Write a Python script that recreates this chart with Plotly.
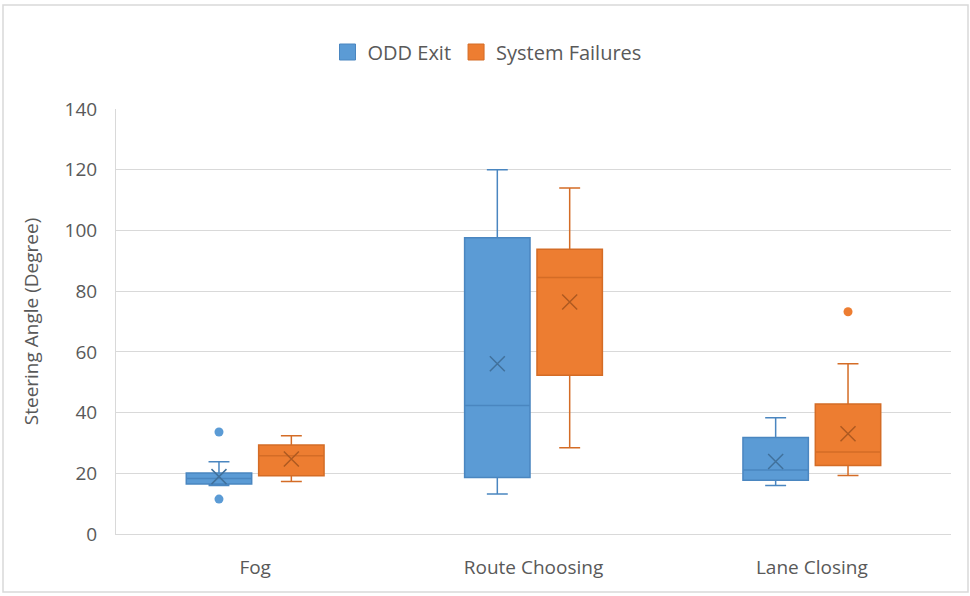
import plotly.graph_objects as go

categories = ["Fog", "Route Choosing", "Lane Closing"]
series_names = ["ODD Exit", "System Failures"]

odd_lower = [16.0, 13.2, 16.0]
odd_q1 = [16.5, 18.6, 17.7]
odd_median = [18.3, 42.3, 21.1]
odd_q3 = [20.1, 97.6, 31.8]
odd_upper = [23.8, 120.0, 38.3]
odd_mean = [18.9, 56.1, 23.9]
odd_outlier_cat = [0, 0]
odd_outlier_val = [33.6, 11.5]

sf_lower = [17.3, 28.4, 19.3]
sf_q1 = [19.2, 52.3, 22.6]
sf_median = [25.8, 84.5, 27.0]
sf_q3 = [29.3, 93.8, 42.8]
sf_upper = [32.4, 114.0, 56.1]
sf_mean = [24.7, 76.4, 33.0]
sf_outlier_cat = [2]
sf_outlier_val = [73.2]

y_ticks = [0, 20, 40, 60, 80, 100, 120, 140]

fill_colors = ["#5B9BD5", "#ED7D31"]
line_colors = ["#4A86C0", "#D46C26"]
mean_colors = ["#41719C", "#AE5A21"]
offsets = [-0.13, 0.13]
box_w = 0.235

series = [
    (odd_lower, odd_q1, odd_median, odd_q3, odd_upper, odd_mean, odd_outlier_cat, odd_outlier_val),
    (sf_lower, sf_q1, sf_median, sf_q3, sf_upper, sf_mean, sf_outlier_cat, sf_outlier_val),
]

fig = go.Figure()
for k, (lo, q1, med, q3, up, mn, oc, ov) in enumerate(series):
    xs = [i + offsets[k] for i in range(len(categories))]
    fig.add_trace(go.Box(
        x=xs, lowerfence=lo, q1=q1, median=med, q3=q3, upperfence=up,
        width=box_w, whiskerwidth=0.32,
        fillcolor=fill_colors[k], line=dict(color=line_colors[k], width=1.5),
        showlegend=False, hoverinfo="skip",
    ))
    fig.add_trace(go.Scatter(
        x=xs, y=mn, mode="markers", showlegend=False, hoverinfo="skip",
        marker=dict(symbol="x-thin-open", size=15, color=mean_colors[k],
                    line=dict(color=mean_colors[k], width=1.5)),
    ))
    fig.add_trace(go.Scatter(
        x=[c + offsets[k] for c in oc], y=ov, mode="markers", showlegend=False, hoverinfo="skip",
        marker=dict(symbol="circle", size=9, color=fill_colors[k]),
    ))
    fig.add_trace(go.Scatter(
        x=[None], y=[None], mode="markers", name=series_names[k],
        marker=dict(symbol="square", size=20, color=fill_colors[k], line=dict(color=line_colors[k], width=1)),
    ))

font_family = "Open Sans, Noto Sans, sans-serif"
fig.update_layout(
    width=970, height=596,
    margin=dict(l=116, r=19, t=109, b=62),
    paper_bgcolor="white", plot_bgcolor="white",
    font=dict(family=font_family, size=19, color="#595959"),
    legend=dict(orientation="h", x=(487 - 116) / 835, xanchor="center",
                y=(534 - 52) / 425, yanchor="middle",
                font=dict(size=20, color="#595959"), itemsizing="trace", itemwidth=30,
                tracegroupgap=0),
    xaxis=dict(range=[-0.5, 2.5], tickmode="array", tickvals=list(range(len(categories))),
               ticktext=categories, showgrid=False, zeroline=False, showline=True,
               linecolor="#D9D9D9", linewidth=1, ticks="", ticklabelstandoff=16,
               tickfont=dict(size=19)),
    yaxis=dict(range=[0, 140], tickmode="array", tickvals=y_ticks, showgrid=True,
               gridcolor="#D9D9D9", gridwidth=1, zeroline=False, showline=True,
               linecolor="#D9D9D9", linewidth=1, ticks="", ticklabelstandoff=14,
               tickfont=dict(size=19),
               title=dict(text="Steering Angle (Degree)", font=dict(size=19, color="#595959"), standoff=20)),
    shapes=[dict(type="rect", xref="paper", yref="paper",
                 x0=(3 - 116) / 835, x1=(968 - 116) / 835,
                 y0=(534 - 592) / 425, y1=(534 - 5) / 425,
                 line=dict(color="#D9D9D9", width=1.5), fillcolor="rgba(0,0,0,0)", layer="below")],
)

fig.write_html("out.html")
